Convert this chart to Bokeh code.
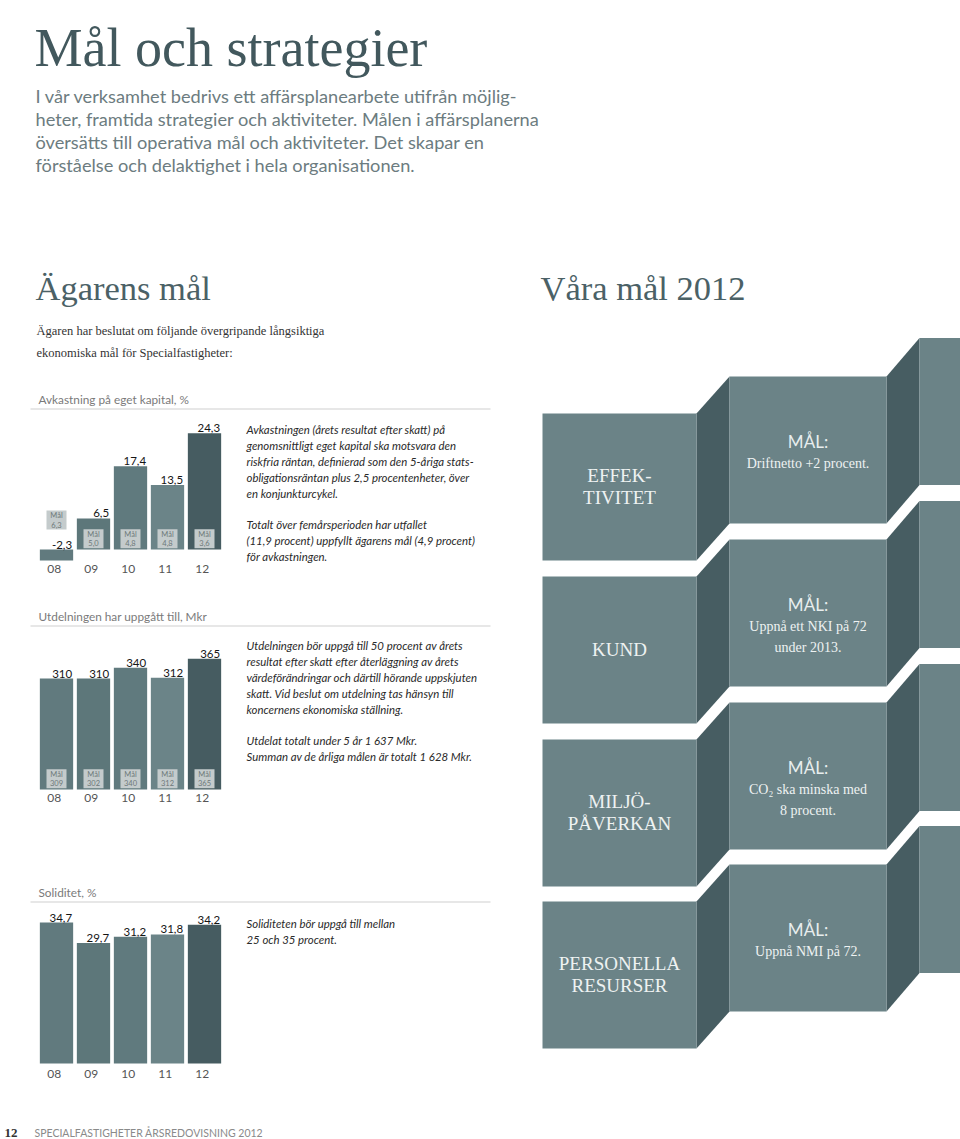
from bokeh.plotting import figure
from bokeh.models import Range1d
from bokeh.embed import file_html
from bokeh.resources import INLINE
from bokeh.core.properties import value

# ---------------- data ----------------
years = ["08", "09", "10", "11", "12"]
roe = [-2.3, 6.5, 17.4, 13.5, 24.3]
roe_target = [6.3, 5.0, 4.8, 4.8, 3.6]
dividend = [310, 310, 340, 312, 365]
dividend_target = [309, 302, 340, 312, 365]
solidity = [34.7, 29.7, 31.2, 31.8, 34.2]

areas = [["EFFEK-", "TIVITET"], ["KUND"], ["MILJÖ-", "PÅVERKAN"], ["PERSONELLA", "RESURSER"]]
area_goals = [["Driftnetto +2 procent."], ["Uppnå ett NKI på 72", "under 2013."],
              ["CO₂ ska minska med", "8 procent."], ["Uppnå NMI på 72."]]

# ---------------- styles ----------------
W, H = 960, 1139
bar_colors = ["#617a7e", "#5d777a", "#607a7e", "#6b8488", "#465c61"]
FRONT = "#6b8387"
SIDE = "#475d62"
BOX = "#c4cbcc"
SANS = "Lato"
SERIF = "Liberation Serif"

p = figure(width=W, height=H, x_range=Range1d(0, W), y_range=Range1d(H, 0),
           output_backend="svg", toolbar_location=None, min_border=0,
           x_axis_location=None, y_axis_location=None)
p.grid.visible = False
p.outline_line_color = None
p.background_fill_color = "white"
p.border_fill_color = "white"


def txt(x, y, s, size, color, font=SANS, style="normal", align="left", baseline="middle", **kw):
    p.text(x=[x], y=[y], text=[s], text_font=value(font), text_font_size=f"{size}px",
           text_color=color, text_font_style=style, text_align=align, text_baseline=baseline, **kw)


# ---------------- page texts ----------------
txt(34, 47, "Mål och strategier", 54, "#42585d", font=SERIF, baseline="alphabetic")
intro = ["I vår verksamhet bedrivs ett affärsplanearbete utifrån möjlig-",
         "heter, framtida strategier och aktiviteter. Målen i affärsplanerna",
         "översätts till operativa mål och aktiviteter. Det skapar en",
         "förståelse och delaktighet i hela organisationen."]
for i, s in enumerate(intro):
    txt(35, 95 + 23.3 * i, s, 18.2, "#6c7c80")

txt(35, 287, "Ägarens mål", 34.5, "#4b6166", font=SERIF, baseline="alphabetic")
txt(540, 287, "Våra mål 2012", 34.5, "#4b6166", font=SERIF, baseline="alphabetic")
txt(36, 330, "Ägaren har beslutat om följande övergripande långsiktiga", 12.5, "#333333", font=SERIF)
txt(36, 352, "ekonomiska mål för Specialfastigheter:", 12.5, "#333333", font=SERIF)

# ---------------- charts (own scales) ----------------
PITCH, FIRST = 37.0, 56.0
p.extra_x_ranges["yr"] = Range1d(-FIRST / PITCH, (W - FIRST) / PITCH)


def yrange(base_px, ppu):
    return Range1d(start=(base_px - H) / ppu, end=base_px / ppu)


charts = [
    dict(name="roe", vals=roe, tgt=roe_target, base=549, ppu=4.78, fmt="{:.1f}",
         title="Avkastning på eget kapital, %", title_y=399, rule_y=408.5, rule_end=490, year_y=568),
    dict(name="div", vals=dividend, tgt=dividend_target, base=789, ppu=0.358, fmt="{:.0f}",
         title="Utdelningen har uppgått till, Mkr", title_y=616, rule_y=625.5, rule_end=490, year_y=797),
    dict(name="sol", vals=solidity, tgt=None, base=1063, ppu=4.06, fmt="{:.1f}",
         title="Soliditet, %", title_y=892, rule_y=901.5, rule_end=490, year_y=1073),
]

idx = list(range(len(years)))
for c in charts:
    nm = c["name"]
    p.extra_y_ranges[nm] = yrange(c["base"], c["ppu"])
    txt(38, c["title_y"], c["title"], 11.8, "#7a7a7a")
    p.segment(x0=[30], y0=[c["rule_y"]], x1=[c["rule_end"]], y1=[c["rule_y"]],
              line_color="#cfcfcf", line_width=1)
    p.vbar(x=idx, top=c["vals"], bottom=0, width=0.9, fill_color=bar_colors, line_color=None,
           x_range_name="yr", y_range_name=nm)
    labels = [c["fmt"].format(v).replace(".", ",") for v in c["vals"]]
    p.text(x=[i + 0.45 for i in idx], y=[max(v, 0) for v in c["vals"]], text=labels,
           x_range_name="yr", y_range_name=nm, text_align="right", text_baseline="bottom",
           y_offset=-1, x_offset=-1, text_font=value(SANS), text_font_size="11.5px",
           text_color="#151515")
    p.text(x=[i - 0.06 for i in idx], y=[c["year_y"]] * len(idx), text=years, x_range_name="yr",
           text_align="center", text_baseline="middle", text_font=value(SANS),
           text_font_size="12px", text_color="#555555")
    if c["tgt"] is not None:
        ppu = c["ppu"]
        centers = [(29.5 if v < 0 else 10.8) / ppu for v in c["vals"]]
        p.rect(x=idx, y=centers, width=20, height=19, width_units="screen", height_units="screen",
               fill_color=BOX, line_color=None, x_range_name="yr", y_range_name=nm)
        tl = [c["fmt"].format(t).replace(".", ",") for t in c["tgt"]]
        common = dict(x_range_name="yr", y_range_name=nm, text_align="center", text_baseline="middle",
                      text_font=value(SANS), text_font_size="7.5px", text_color="#6d7879")
        p.text(x=idx, y=centers, text=["Mål"] * len(idx), y_offset=-4.5, **common)
        p.text(x=idx, y=centers, text=tl, y_offset=4.5, **common)

# ---------------- explanatory paragraphs ----------------
par1 = ["Avkastningen (årets resultat efter skatt) på",
        "genomsnittligt eget kapital ska motsvara den",
        "riskfria räntan, definierad som den 5-åriga stats-",
        "obligationsräntan plus 2,5 procentenheter, över",
        "en konjunkturcykel.",
        "",
        "Totalt över femårsperioden har utfallet",
        "(11,9 procent) uppfyllt ägarens mål (4,9 procent)",
        "för avkastningen."]
par2 = ["Utdelningen bör uppgå till 50 procent av årets",
        "resultat efter skatt efter återläggning av årets",
        "värdeförändringar och därtill hörande uppskjuten",
        "skatt. Vid beslut om utdelning tas hänsyn till",
        "koncernens ekonomiska ställning.",
        "",
        "Utdelat totalt under 5 år 1 637 Mkr.",
        "Summan av de årliga målen är totalt 1 628 Mkr."]
par3 = ["Soliditeten bör uppgå till mellan",
        "25 och 35 procent."]
for lines, y0 in [(par1, 429), (par2, 645), (par3, 923)]:
    for i, s in enumerate(lines):
        if s:
            txt(246, y0 + 15.9 * i, s, 11.4, "#2a2a2a", style="italic")

# ---------------- right side: staircase of blocks ----------------
BH = 147
col1_top = [413, 576, 739, 901]
c1x0, c1x1 = 542, 696
c2x0, c2x1 = 729, 886
c3x0, c3x1 = 919, 960
step12, step23 = 37, 38.5
col2_top = [t - step12 for t in col1_top]
col3_top = [t - step23 for t in col2_top]

fx, fy, sx, sy = [], [], [], []
for t1, t2, t3 in zip(col1_top, col2_top, col3_top):
    for (x0, x1, t) in [(c1x0, c1x1, t1), (c2x0, c2x1, t2), (c3x0, c3x1, t3)]:
        fx.append([x0, x1, x1, x0]); fy.append([t, t, t + BH, t + BH])
    sx.append([c1x1, c2x0, c2x0, c1x1]); sy.append([t1, t2, t2 + BH, t1 + BH])
    sx.append([c2x1, c3x0, c3x0, c2x1]); sy.append([t2, t3, t3 + BH, t2 + BH])
p.patches(sx, sy, fill_color=SIDE, line_color=None)
p.patches(fx, fy, fill_color=FRONT, line_color=None)

c1c = (c1x0 + c1x1) / 2
c2c = (c2x0 + c2x1) / 2
for t1, t2, lab, goal in zip(col1_top, col2_top, areas, area_goals):
    mid = t1 + BH / 2 - 1
    n = len(lab)
    for j, s in enumerate(lab):
        txt(c1c, mid + (j - (n - 1) / 2) * 22, s, 19, "#eef2f2", font=SERIF, align="center")
    txt(c2c, t2 + 65, "MÅL:", 17, "#e8eeee", align="center")
    for j, s in enumerate(goal):
        txt(c2c, t2 + 87 + 21 * j, s, 14, "#eef2f2", font=SERIF, align="center")

# ---------------- footer ----------------
txt(4, 1132, "12", 13, "#333333", font=SERIF, style="bold")
txt(34, 1132, "SPECIALFASTIGHETER ÅRSREDOVISNING 2012", 10.5, "#8a8a8a")

open("out.html", "w").write(file_html(p, INLINE))
